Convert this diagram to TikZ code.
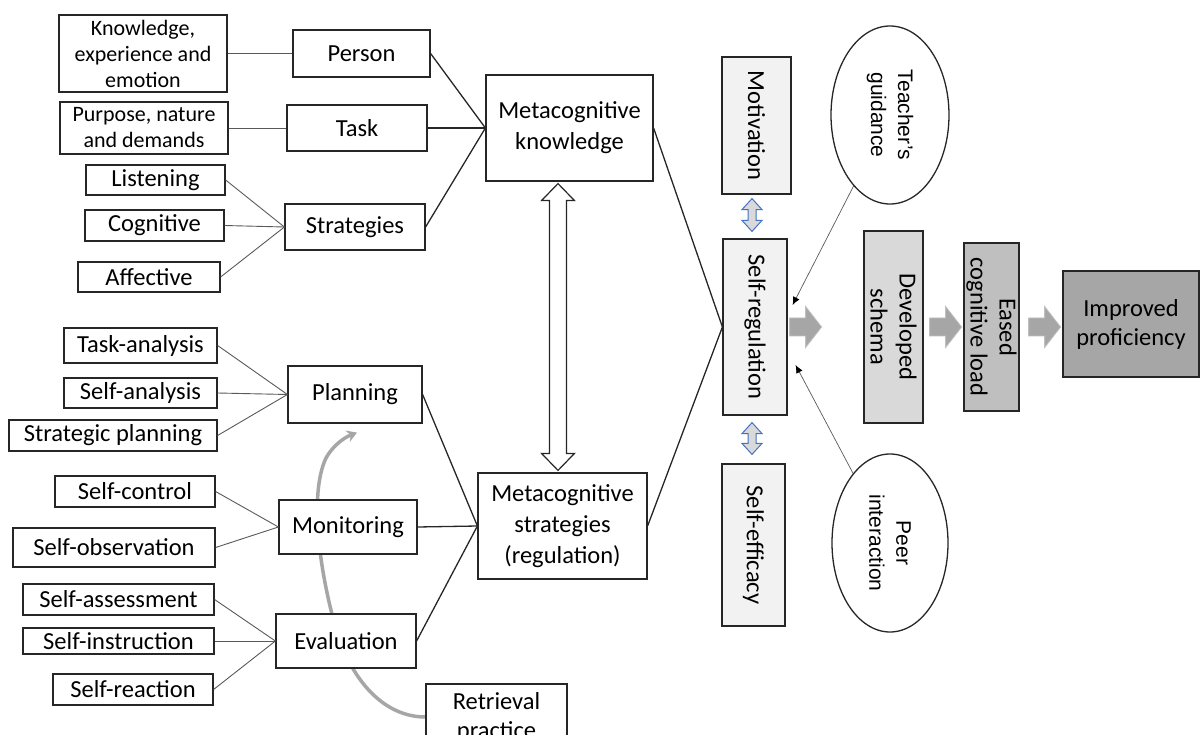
\documentclass[tikz,border=0pt]{standalone}
\usepackage{fontspec}
\setmainfont{Carlito}
\newfontfamily\arialfont{Liberation Sans}
\usepackage{tikz}
\usetikzlibrary{shapes.geometric,arrows.meta,calc,backgrounds}
\definecolor{cLine}{HTML}{262626}
\definecolor{cLeaf}{HTML}{595959}
\definecolor{cPale}{HTML}{F2F2F2}
\definecolor{cLight}{HTML}{D9D9D9}
\definecolor{cMid}{HTML}{BFBFBF}
\definecolor{cDark}{HTML}{A6A6A6}
\definecolor{cBlue}{HTML}{4472C4}
\tikzset{
  box/.style    = {rectangle, draw=cLine, fill=white, line width=1.2pt, align=center,
                   inner sep=0pt, font=\fontsize{24.5}{29}\selectfont},
  small/.style  = {font=\fontsize{22}{26}\selectfont},
  vbox/.style   = {box, rotate=-90, fill=#1},
  vbox/.default = cPale,
  oval/.style   = {ellipse, draw=cLine, fill=white, line width=1.3pt, rotate=-90,
                   align=center, inner sep=0pt, font=\arialfont\fontsize{21}{27}\selectfont},
  leaf/.style   = {draw=cLeaf, line width=0.9pt},
  link/.style   = {draw=cLine, line width=1.3pt},
  hollow/.style = {draw=cLine, fill=white, line width=1.2pt, line join=miter},
  twin/.style   = {draw=cBlue, fill=cLight, line width=1pt, line join=miter},
  blk/.style    = {draw=cMid, fill=cDark, line width=0.8pt, line join=miter},
  cue/.style    = {-{Latex[length=8pt,width=7pt,color=black]}, draw=cLeaf, line width=0.7pt},
  recall/.style = {-{Stealth[length=10pt,width=12pt]}, draw=cDark, line width=3.5pt},
}

\begin{document}
\begin{tikzpicture}[x=1pt, y=-1pt]
  \useasboundingbox (0,0) rectangle (1200,735);

  % knowledge branch
  \node[box, small, minimum width=168, minimum height=77] (kee) at (143,53.5) {Knowledge,\\experience and\\emotion};
  \node[box, small, minimum width=168, minimum height=52] (pnd) at (144,128) {Purpose, nature\\and demands};
  \node[box, minimum width=139, minimum height=30] (lis) at (155.5,180) {Listening};
  \node[box, minimum width=139, minimum height=31] (cog) at (154.5,225.5) {Cognitive};
  \node[box, minimum width=142, minimum height=30] (aff) at (149,277) {Affective};
  \node[box, minimum width=137, minimum height=47] (person) at (361.5,53.5) {Person};
  \node[box, minimum width=140, minimum height=46] (task) at (357,128) {Task};
  \node[box, minimum width=140, minimum height=46] (strat) at (355,227) {Strategies};
  \node[box, font=\fontsize{24.5}{31}\selectfont, minimum width=167, minimum height=106] (mk) at (569.5,128) {Metacognitive\\knowledge};

  % regulation branch
  \node[box, minimum width=153, minimum height=35] (ta) at (140.5,345.5) {Task-analysis};
  \node[box, minimum width=153, minimum height=30] (sa) at (140.5,393) {Self-analysis};
  \node[box, minimum width=208, minimum height=31] (sp) at (113,435.5) {Strategic planning};
  \node[box, minimum width=160, minimum height=31] (sc) at (135,491.5) {Self-control};
  \node[box, minimum width=202, minimum height=39] (so) at (114,547.5) {Self-observation};
  \node[box, minimum width=191, minimum height=31] (sas) at (118.5,599.5) {Self-assessment};
  \node[box, minimum width=191, minimum height=26] (si) at (118.5,641) {Self-instruction};
  \node[box, minimum width=160, minimum height=31] (sre) at (133,689.5) {Self-reaction};
  \node[box, minimum width=134, minimum height=57] (plan) at (355,394.5) {Planning};
  \node[box, minimum width=138, minimum height=54] (mon) at (348,527) {Monitoring};
  \node[box, minimum width=140, minimum height=54] (eval) at (346,641) {Evaluation};
  \node[box, minimum width=141, minimum height=66] (rp) at (496.5,717) {Retrieval\\practice};
  \node[box, font=\fontsize{24.5}{31}\selectfont, minimum width=169, minimum height=106] (ms) at (562.5,526) {Metacognitive\\strategies\\(regulation)};

  % right column
  \node[vbox, minimum width=137, minimum height=69] (mot) at (756.5,125.5) {Motivation};
  \node[vbox, minimum width=176, minimum height=64] (selfreg) at (755,327) {Self-regulation};
  \node[vbox, minimum width=162, minimum height=63] (se) at (753.5,545) {Self-efficacy};
  \node[oval, minimum width=178, minimum height=118] (tg) at (890,115) {Teacher’s\\guidance};
  \node[oval, minimum width=178, minimum height=116] (pi) at (890,543) {Peer\\interaction};
  \node[vbox=cLight, minimum width=192, minimum height=59] (ds) at (893.5,327) {Developed\\schema};
  \node[vbox=cMid, minimum width=168, minimum height=55] (ecl) at (991.5,327) {Eased\\cognitive load};
  \node[box, fill=cDark, minimum width=136, minimum height=106] (ip) at (1131,324) {Improved\\proficiency};

  % thin links to the sub-items
  \draw[leaf] (kee.east) -- (person.west);
  \draw[leaf] (pnd.east) -- (task.west);
  \foreach \n in {lis, cog, aff} \draw[leaf] (\n.east) -- (strat.west);
  \foreach \n in {ta, sa, sp} \draw[leaf] (\n.east) -- (plan.west);
  \foreach \n in {sc, so} \draw[leaf] (\n.east) -- (mon.west);
  \foreach \n in {sas, si, sre} \draw[leaf] (\n.east) -- (eval.west);

  % main links
  \foreach \n in {person, task, strat} \draw[link] (\n.east) -- (mk.west);
  \foreach \n in {plan, mon, eval} \draw[link] (\n.east) -- (ms.west);
  \draw[link] (mk.east) -- (selfreg.south);
  \draw[link] (ms.east) -- (selfreg.south);

  % hollow double arrow between knowledge and strategies
  \coordinate (up) at ($(mk.south)+(-11.5,2)$);
  \coordinate (dn) at ($(ms.north)+(-4.5,-2)$);
  \draw[hollow] (up) -- ($(up)+(16.5,17)$) -- ($(up)+(8.5,17)$) -- ($(dn)+(8.5,-17)$)
    -- ($(dn)+(16.5,-17)$) -- (dn) -- ($(dn)+(-16.5,-17)$) -- ($(dn)+(-8.5,-17)$)
    -- ($(up)+(-8.5,17)$) -- ($(up)+(-16.5,17)$) -- cycle;

  % small double arrows
  \coordinate (m1) at ($(mot.east)+(-4.5,4)$);
  \coordinate (m2) at ($(selfreg.west)+(-3,-7)$);
  \coordinate (m3) at ($(selfreg.east)+(-3,7)$);
  \coordinate (m4) at ($(se.west)+(-1.5,-9)$);
  \foreach \a/\b in {m1/m2, m3/m4}
    \draw[twin] (\a) -- ($(\a)+(10,11)$) -- ($(\a)+(4,11)$) -- ($(\b)+(4,-11)$)
      -- ($(\b)+(10,-11)$) -- (\b) -- ($(\b)+(-10,-11)$) -- ($(\b)+(-4,-11)$)
      -- ($(\a)+(-4,11)$) -- ($(\a)+(-10,11)$) -- cycle;

  % block arrows
  \foreach \n/\g in {selfreg/2, ds/6, ecl/9}
    \draw[blk, shift={($(\n.north)+(\g,0)$)}] (0,-9) -- (16,-9) -- (16,-20.5) -- (32,0)
      -- (16,20.5) -- (16,9) -- (0,9) -- cycle;

  \draw[cue] (tg) -- ($(selfreg.north)+(5,-22)$);
  \draw[cue] (pi) -- ($(selfreg.north)+(8,38)$);

  \coordinate (cyc) at ($(plan.south)+(2,9)$);
  \begin{scope}[on background layer]
    \draw[recall] (rp.west) .. controls (385,717) and (350,682) .. (334,622)
      .. controls (318,562) and (310,492) .. (326,458)
      .. controls (332,447) and (343,438) .. (cyc);
  \end{scope}
\end{tikzpicture}
\end{document}
